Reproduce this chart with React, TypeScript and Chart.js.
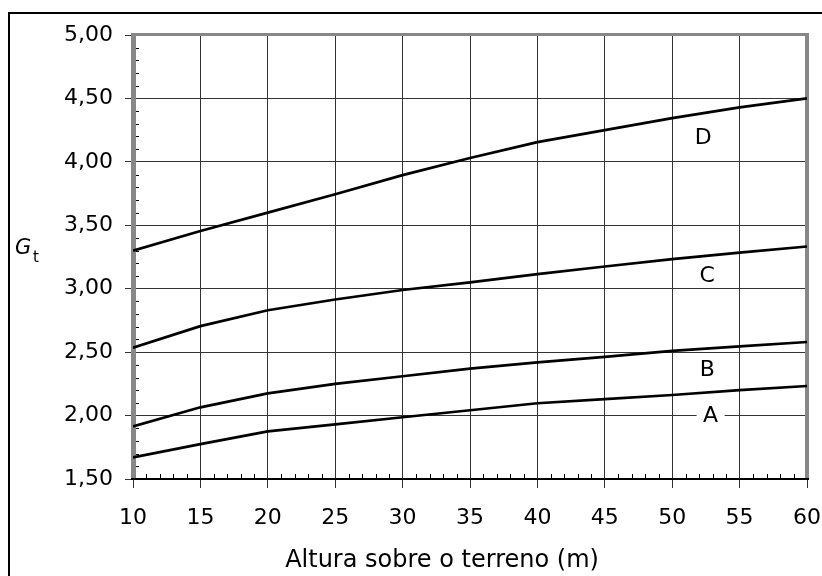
import React, { useEffect, useRef } from 'react';
import { Chart, registerables } from 'chart.js';

Chart.register(...registerables);

// Height above ground (m)
const heights = [10, 15, 20, 25, 30, 35, 40, 45, 50, 55, 60];
// Gt curves
const curveA = [1.67, 1.775, 1.875, 1.93, 1.987, 2.042, 2.097, 2.13, 2.162, 2.2, 2.233];
const curveB = [1.915, 2.065, 2.175, 2.25, 2.31, 2.37, 2.42, 2.462, 2.51, 2.545, 2.58];
const curveC = [2.535, 2.705, 2.83, 2.915, 2.99, 3.05, 3.115, 3.175, 3.233, 3.285, 3.333];
const curveD = [3.3, 3.455, 3.6, 3.745, 3.895, 4.03, 4.155, 4.25, 4.345, 4.43, 4.5];

const curveNames = ['A', 'B', 'C', 'D'];
const curveLabelX = [52.85, 52.6, 52.6, 52.3];
const curveLabelY = [2.0, 2.365, 3.107, 4.195];

const yTickLabels = ['1,50', '2,00', '2,50', '3,00', '3,50', '4,00', '4,50', '5,00'];
const xTickLabels = ['10', '15', '20', '25', '30', '35', '40', '45', '50', '55', '60'];

const xTitle = 'Altura sobre o terreno (m)';
const yTitleMain = 'G';
const yTitleSub = 't';

const FONT = '"DejaVu Sans", sans-serif';

const decorPlugin = {
  id: 'decor',
  beforeDraw(chart: any) {
    const ctx = chart.ctx;
    ctx.save();
    ctx.fillStyle = '#fff';
    ctx.fillRect(0, 0, chart.width, chart.height);
    ctx.strokeStyle = '#000';
    ctx.lineWidth = 2;
    ctx.strokeRect(9, 13, 1000, 1000);
    ctx.restore();
  },
  beforeDatasetsDraw(chart: any) {
    const ctx = chart.ctx;
    const { left, right, top, bottom } = chart.chartArea;
    const xs = chart.scales.x;
    const ys = chart.scales.y;
    ctx.save();
    // minor ticks
    ctx.strokeStyle = '#000';
    ctx.lineWidth = 1;
    for (let i = 0; i <= 35; i++) {
      if (i % 5 === 0) continue;
      const v = 1.5 + i * 0.1;
      const py = Math.round(ys.getPixelForValue(v)) + 0.5;
      ctx.beginPath();
      ctx.moveTo(left, py);
      ctx.lineTo(left + 6, py);
      ctx.stroke();
    }
    for (let i = 10; i <= 60; i++) {
      if (i % 5 === 0) continue;
      const px = Math.round(xs.getPixelForValue(i)) + 0.5;
      ctx.beginPath();
      ctx.moveTo(px, bottom);
      ctx.lineTo(px, bottom - 5);
      ctx.stroke();
    }
    // plot borders
    ctx.fillStyle = '#888';
    ctx.fillRect(left - 2, top - 2, right - left + 4, 3); // top
    ctx.fillRect(right - 2, top - 2, 4, bottom - top + 2); // right
    ctx.fillRect(left - 2, top - 2, 5, bottom - top + 2); // left
    ctx.fillStyle = '#000';
    ctx.fillRect(left - 2, bottom - 1, right - left + 4, 2); // bottom
    ctx.restore();
  },
  afterDatasetsDraw(chart: any) {
    const ctx = chart.ctx;
    const xs = chart.scales.x;
    const ys = chart.scales.y;
    ctx.save();
    ctx.fillStyle = '#000';
    ctx.font = `22px ${FONT}`;
    ctx.textAlign = 'center';
    ctx.textBaseline = 'middle';
    curveNames.forEach((name, i) => {
      const px = xs.getPixelForValue(curveLabelX[i]);
      const py = ys.getPixelForValue(curveLabelY[i]);
      if (name === 'A') {
        ctx.fillStyle = '#fff';
        ctx.fillRect(px - 14, py - 10, 28, 20);
        ctx.fillStyle = '#000';
      }
      ctx.fillText(name, px, py + 1);
    });
    // x title
    ctx.font = `24px ${FONT}`;
    ctx.textBaseline = 'alphabetic';
    ctx.fillText(xTitle, (chart.chartArea.left + chart.chartArea.right) / 2 - 28, 567);
    // y title G_t
    ctx.textAlign = 'left';
    ctx.font = `italic 21px ${FONT}`;
    ctx.fillText(yTitleMain, 15, 254);
    ctx.font = `15px ${FONT}`;
    ctx.fillText(yTitleSub, 33, 262);
    ctx.restore();
  },
};

export default function App() {
  const ref = useRef<HTMLCanvasElement | null>(null);
  useEffect(() => {
    if (!ref.current) return;
    const mk = (vals: number[]) => heights.map((h, i) => ({ x: h, y: vals[i] }));
    const ds = [curveA, curveB, curveC, curveD].map((vals, i) => ({
      label: curveNames[i],
      data: mk(vals),
      borderColor: '#000',
      backgroundColor: '#000',
      borderWidth: 2.7,
      pointRadius: 0,
      tension: 0,
      fill: false,
    }));
    const chart = new Chart(ref.current, {
      type: 'line',
      data: { datasets: ds },
      options: {
        responsive: false,
        animation: false,
        layout: { padding: { left: 0, top: 35, right: 15, bottom: 0 } },
        plugins: { legend: { display: false }, tooltip: { enabled: false }, title: { display: false } },
        scales: {
          x: {
            type: 'linear',
            min: 10,
            max: 60,
            border: { display: false },
            grid: { color: '#333', lineWidth: 1, tickLength: 9, tickColor: '#333' },
            ticks: {
              stepSize: 5,
              padding: 17,
              color: '#000',
              font: { family: FONT, size: 22 },
              maxRotation: 0,
              callback: (_v: any, idx: number) => xTickLabels[idx],
            },
            afterFit: (s: any) => {
              s.height = 97;
              s.paddingLeft = 0;
              s.paddingRight = 0;
            },
          },
          y: {
            type: 'linear',
            min: 1.5,
            max: 5,
            border: { display: false },
            grid: { color: '#333', lineWidth: 1, tickLength: 8, tickColor: '#333' },
            ticks: {
              stepSize: 0.5,
              padding: 12,
              color: '#000',
              font: { family: FONT, size: 22 },
              callback: (_v: any, idx: number) => yTickLabels[idx],
            },
            afterFit: (s: any) => {
              s.width = 133;
              s.paddingTop = 0;
              s.paddingBottom = 0;
            },
          },
        },
      },
      plugins: [decorPlugin],
    } as any);
    return () => chart.destroy();
  }, []);
  return (
    <div style={{ position: 'fixed', left: 0, top: 0, width: 822, height: 576, overflow: 'hidden', background: '#fff' }}>
      <canvas ref={ref} width={822} height={576} style={{ display: 'block', width: 822, height: 576 }} />
    </div>
  );
}
